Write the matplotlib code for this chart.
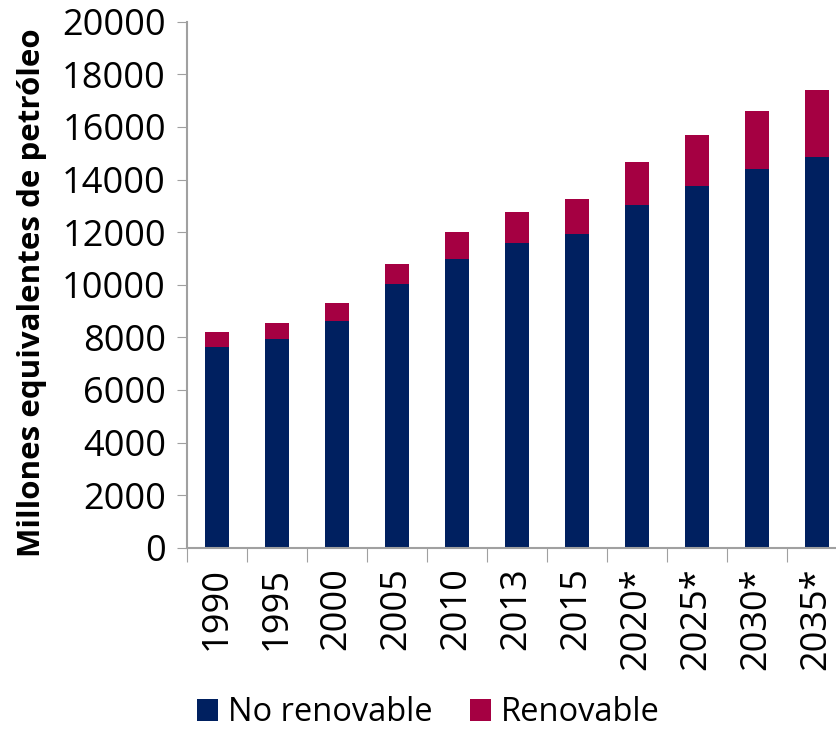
import numpy as np
import matplotlib.pyplot as plt

# datos (millones de tep)
years = ['1990', '1995', '2000', '2005', '2010', '2013', '2015',
         '2020*', '2025*', '2030*', '2035*']
no_renovable = [7640, 7935, 8630, 10015, 10990, 11580, 11940, 13040, 13750, 14390, 14845]
renovable = [550, 610, 685, 760, 1010, 1195, 1315, 1610, 1940, 2225, 2560]

plt.rcParams['font.family'] = ['Open Sans', 'DejaVu Sans']

fig = plt.figure(figsize=(8.37, 7.29), dpi=100)
ax = fig.add_axes([0.2231, 0.2487, 0.7885, 0.7215])

x = np.arange(len(years))
ax.bar(x, no_renovable, width=0.4, color='#002060', label='No renovable')
ax.bar(x, renovable, width=0.4, bottom=no_renovable, color='#A50042', label='Renovable')

ax.set_xlim(-0.5, len(years) - 0.5)
ax.set_ylim(0, 20000)
ax.set_yticks(range(0, 20001, 2000))
ax.tick_params(axis='y', labelsize=26, length=7, color='#a0a0a0', pad=8)

# ticks del eje x en los limites de las categorias
ax.set_xticks(np.arange(-0.5, len(years), 1))
ax.set_xticklabels([])
ax.set_xticks(x, minor=True)
ax.set_xticklabels(years, minor=True, rotation=90, fontsize=26, va='top')
ax.tick_params(axis='x', which='major', length=10, color='#a0a0a0')
ax.tick_params(axis='x', which='minor', length=0, pad=14)

for s in ['top', 'right']:
    ax.spines[s].set_visible(False)
for s in ['left', 'bottom']:
    ax.spines[s].set_color('#a0a0a0')
    ax.spines[s].set_linewidth(1.5)

ax.set_ylabel('Millones equivalentes de petróleo', fontsize=22.5, fontweight='bold', va='center')
ax.yaxis.set_label_coords(-0.234, 0.485)

fig.legend(loc='center', bbox_to_anchor=(0.512, 0.022), ncol=2, frameon=False,
           fontsize=23.5, handlelength=0.65, handleheight=0.65, handletextpad=0.3,
           columnspacing=1.15)

fig.savefig('out.png', dpi=100)
